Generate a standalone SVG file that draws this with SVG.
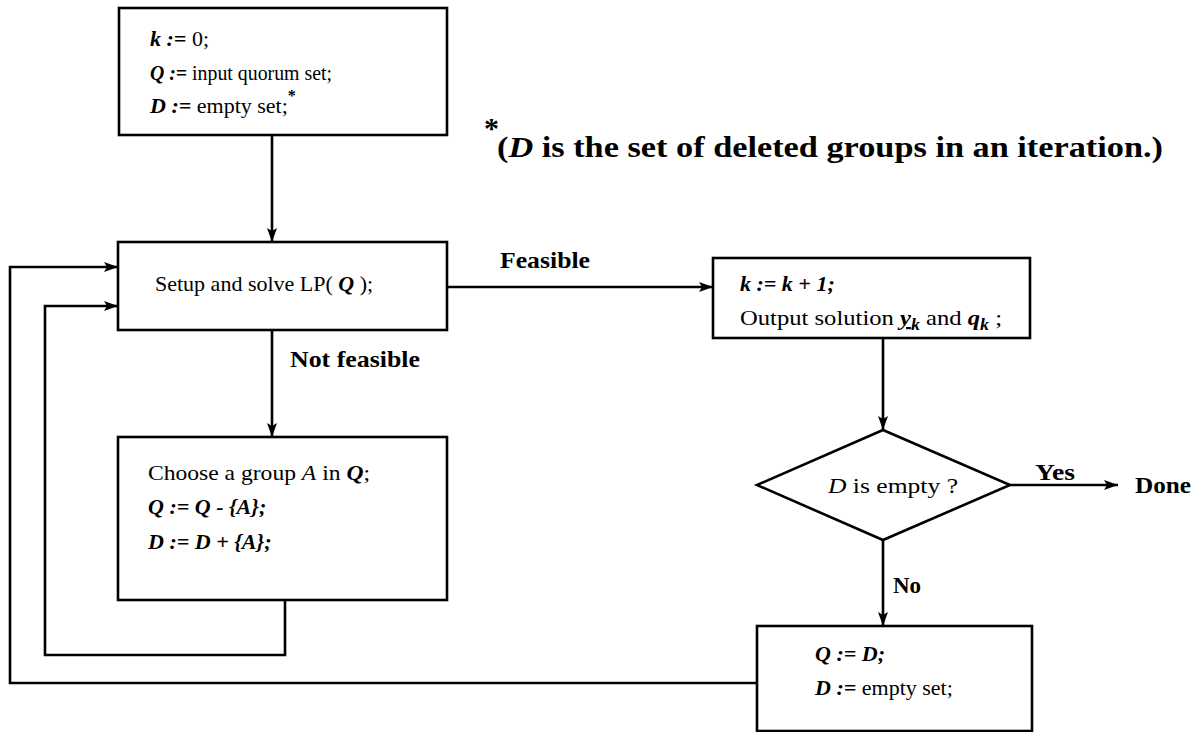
<svg xmlns="http://www.w3.org/2000/svg" width="1200" height="732" viewBox="0 0 1200 732">
  <style>
    .box { fill: #fff; stroke: #000; stroke-width: 2.6; }
    .ln { fill: none; stroke: #000; stroke-width: 2.6; }
    .t { font-family: "Liberation Serif", "Times New Roman", serif; font-size: 22px; fill: #000; }
    .lbl { font-family: "Liberation Serif", "Times New Roman", serif; font-size: 23px; font-weight: bold; fill: #000; }
    .note { font-family: "Liberation Serif", "Times New Roman", serif; font-size: 30px; font-weight: bold; fill: #000; }
    .v { font-style: italic; font-weight: bold; }
    .i { font-style: italic; }
  </style>
  <defs>
    <marker id="arrow" viewBox="0 0 14 10" refX="14" refY="5" markerWidth="14" markerHeight="10" markerUnits="userSpaceOnUse" orient="auto">
      <path d="M0,0 L14,5 L0,10 L3,5 Z" fill="#000"/>
    </marker>
  </defs>

  <rect width="1200" height="732" fill="#fff"/>

  <!-- connectors -->
  <g id="connectors">
    <line class="ln" x1="272" y1="135" x2="272" y2="242" marker-end="url(#arrow)"/>
    <line class="ln" x1="447" y1="287" x2="713" y2="287" marker-end="url(#arrow)"/>
    <line class="ln" x1="272" y1="330" x2="272" y2="437" marker-end="url(#arrow)"/>
    <line class="ln" x1="883" y1="338" x2="883" y2="430" marker-end="url(#arrow)"/>
    <line class="ln" x1="1010" y1="485" x2="1118" y2="485" marker-end="url(#arrow)"/>
    <line class="ln" x1="883" y1="540" x2="883" y2="626" marker-end="url(#arrow)"/>
    <polyline class="ln" points="285,600 285,655 45,655 45,306 118,306" marker-end="url(#arrow)"/>
    <polyline class="ln" points="757,683 10,683 10,267 118,267" marker-end="url(#arrow)"/>
    <text class="lbl" x="500" y="268" textLength="90" lengthAdjust="spacingAndGlyphs">Feasible</text>
    <text class="lbl" x="290" y="367" textLength="130" lengthAdjust="spacingAndGlyphs">Not feasible</text>
    <text class="lbl" x="1035" y="480" textLength="40" lengthAdjust="spacingAndGlyphs">Yes</text>
    <text class="lbl" x="893" y="593">No</text>
  </g>

  <!-- initialisation -->
  <g id="init">
    <rect class="box" x="119" y="8" width="328" height="127"/>
    <text class="t" x="150" y="46"><tspan class="v">k :=</tspan> 0;</text>
    <text class="t" x="150" y="80" textLength="182" lengthAdjust="spacingAndGlyphs"><tspan class="v">Q :=</tspan> input quorum set;</text>
    <text class="t" x="150" y="113"><tspan class="v">D :=</tspan> empty set;<tspan dy="-12" font-size="16" font-weight="bold">*</tspan></text>
  </g>

  <!-- footnote -->
  <g id="footnote">
    <text class="note" x="484" y="138" font-size="20">*</text>
    <text class="note" x="497" y="157" textLength="666" lengthAdjust="spacingAndGlyphs">(<tspan class="i">D</tspan>  is the set of deleted groups in an iteration.)</text>
  </g>

  <!-- LP step -->
  <g id="solve">
    <rect class="box" x="118" y="242" width="329" height="88"/>
    <text class="t" x="155" y="291">Setup and solve LP( <tspan class="v">Q</tspan> );</text>
  </g>

  <!-- feasible output -->
  <g id="output">
    <rect class="box" x="713" y="258" width="317" height="80"/>
    <text class="t" x="740" y="291"><tspan class="v">k := k + 1;</tspan></text>
    <text class="t" x="740" y="325" font-size="23" textLength="262" lengthAdjust="spacingAndGlyphs">Output solution <tspan class="v" text-decoration="underline">y</tspan><tspan class="v" font-size="16" dy="5">k</tspan><tspan dy="-5"> and  </tspan><tspan class="v">q</tspan><tspan class="v" font-size="16" dy="5">k</tspan><tspan dy="-5"> ;</tspan></text>
  </g>

  <!-- group removal -->
  <g id="choose">
    <rect class="box" x="118" y="437" width="329" height="163"/>
    <text class="t" x="148" y="480" font-size="23" textLength="222" lengthAdjust="spacingAndGlyphs">Choose a group <tspan class="i">A</tspan> in  <tspan class="v">Q</tspan>;</text>
    <text class="t" x="148" y="514"><tspan class="v">Q := Q - {A};</tspan></text>
    <text class="t" x="148" y="549"><tspan class="v">D := D + {A};</tspan></text>
  </g>

  <!-- decision -->
  <g id="decision">
    <polygon class="box" points="883,430 1010,485 883,540 757,485"/>
    <text class="t" x="893" y="493" font-size="24" text-anchor="middle" textLength="130" lengthAdjust="spacingAndGlyphs"><tspan class="i">D</tspan> is empty ?</text>
  </g>

  <!-- end -->
  <g id="done">
    <text class="lbl" x="1135" y="493" textLength="56" lengthAdjust="spacingAndGlyphs">Done</text>
  </g>

  <!-- reset -->
  <g id="reset">
    <rect class="box" x="757" y="626" width="275" height="105"/>
    <text class="t" x="815" y="661"><tspan class="v">Q := D;</tspan></text>
    <text class="t" x="815" y="695"><tspan class="v">D :=</tspan> empty set;</text>
  </g>
</svg>
